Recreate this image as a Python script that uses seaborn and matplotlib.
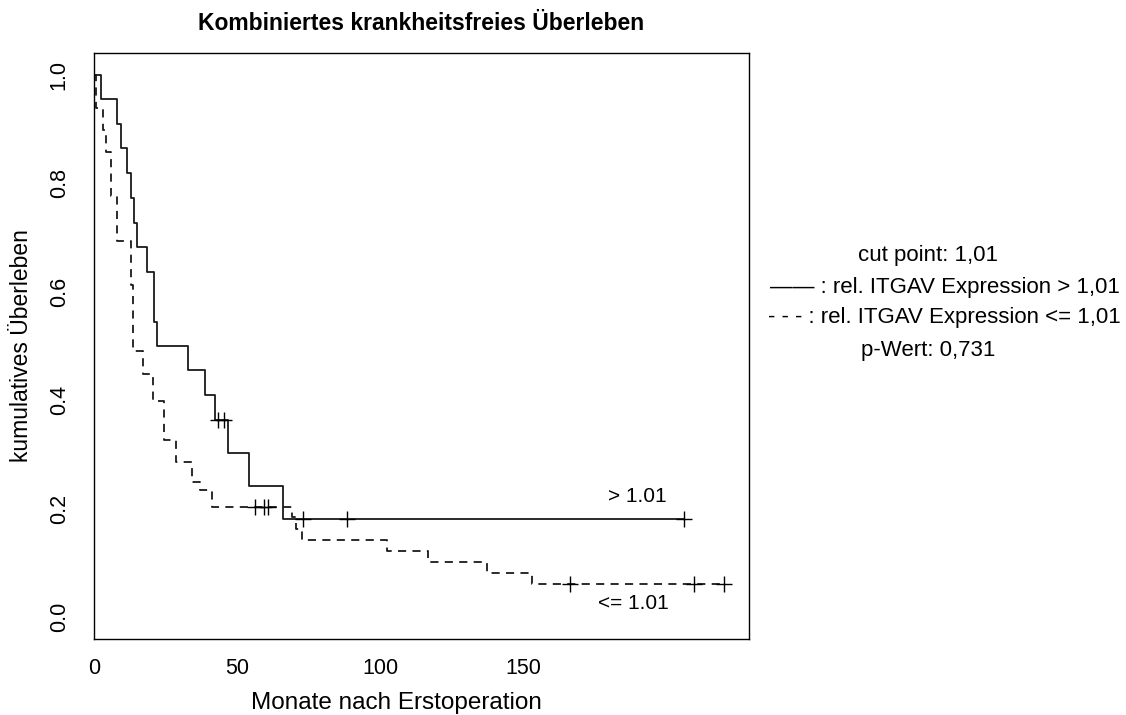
import matplotlib
matplotlib.use("Agg")
import matplotlib.pyplot as plt
import numpy as np
import pandas as pd
import seaborn as sns

# Kaplan-Meier step curves (time in months, cumulative survival)
high_times = [0, 2.3, 8.1, 9.3, 11.6, 12.8, 14.0, 15.1, 18.6, 20.9, 22.1,
              32.9, 38.8, 42.3, 46.8, 54.1, 66.0, 206.2]
high_surv = [1.0, 0.955, 0.909, 0.864, 0.818, 0.773, 0.727, 0.682, 0.636,
             0.545, 0.5, 0.455, 0.409, 0.364, 0.303, 0.242, 0.182, 0.182]
high_cens_t = [43.3, 45.6, 72.9, 88.3, 206.2]
high_cens_s = [0.364, 0.364, 0.182, 0.182, 0.182]

low_times = [0, 0.8, 3.1, 4.3, 5.8, 8.1, 12.8, 13.6, 17.1, 20.6, 24.4, 28.6,
             34.4, 37.0, 41.2, 69.2, 70.6, 72.6, 102.3, 116.6, 137.5, 153.2,
             220.2]
low_surv = [1.0, 0.939, 0.898, 0.857, 0.776, 0.694, 0.612, 0.49, 0.449,
            0.398, 0.327, 0.286, 0.25, 0.235, 0.204, 0.184, 0.163, 0.143,
            0.122, 0.102, 0.082, 0.061, 0.061]
low_cens_t = [56.4, 59.6, 60.7, 166.3, 209.7, 220.2]
low_cens_s = [0.204, 0.204, 0.204, 0.061, 0.061, 0.061]

group_labels = ["> 1.01", "<= 1.01"]
x_ticks = [0, 50, 100, 150]
y_ticks = [0.0, 0.2, 0.4, 0.6, 0.8, 1.0]

curves = pd.concat([
    pd.DataFrame({"t": high_times, "s": high_surv, "g": group_labels[0]}),
    pd.DataFrame({"t": low_times, "s": low_surv, "g": group_labels[1]}),
], ignore_index=True)
censored = pd.concat([
    pd.DataFrame({"t": high_cens_t, "s": high_cens_s, "g": group_labels[0]}),
    pd.DataFrame({"t": low_cens_t, "s": low_cens_s, "g": group_labels[1]}),
], ignore_index=True)

sns.set_theme(style="white")
plt.rcParams["font.family"] = ["Liberation Sans", "DejaVu Sans"]
plt.rcParams["text.color"] = "black"

W, H = 1126, 715
fig = plt.figure(figsize=(W / 100, H / 100), dpi=100)
L, R, T, B = 94, 749, 53, 639
ax = fig.add_axes([L / W, 1 - B / H, (R - L) / W, (B - T) / H])

sns.lineplot(data=curves, x="t", y="s", style="g", hue="g",
             palette={group_labels[0]: "#1a1a1a", group_labels[1]: "#1a1a1a"},
             dashes={group_labels[0]: "", group_labels[1]: (4.5, 3.5)},
             estimator=None, sort=False, drawstyle="steps-post",
             linewidth=1.3, legend=False, ax=ax)
sns.scatterplot(data=censored, x="t", y="s", marker="+", s=140,
                color="black", linewidth=1.0, legend=False, ax=ax, zorder=3)

ax.set_xlim(0, 229)
ax.set_ylim(-0.04, 1.04)
ax.set_xticks(x_ticks)
ax.set_xticklabels([str(v) for v in x_ticks])
ax.set_yticks(y_ticks)
ax.set_yticklabels([f"{v:.1f}" for v in y_ticks], rotation=90, va="center")
ax.set_xlabel("")
ax.set_ylabel("")
ax.tick_params(axis="both", direction="out", length=5.5, width=0.9,
               color="black", labelsize=15.5, labelcolor="black")
ax.tick_params(axis="x", pad=8)
ax.tick_params(axis="y", pad=12)
for sp in ax.spines.values():
    sp.set_visible(True)
    sp.set_color("black")
    sp.set_linewidth(1.0)

ax.text(190, 0.206, "> 1.01", ha="center", va="bottom", fontsize=15)
ax.text(188.5, 0.025, "<= 1.01", ha="center", va="center", fontsize=15)

cx = (L + R) / 2
fig.text(cx / W, 1 - 24 / H, "Kombiniertes krankheitsfreies Überleben",
         ha="center", va="center", fontsize=16.5, fontweight="bold")
fig.text(396 / W, 1 - 703 / H, "Monate nach Erstoperation",
         ha="center", va="center", fontsize=17.5)
fig.text(22 / W, 1 - 346 / H, "kumulatives Überleben", rotation=90,
         ha="center", va="center", fontsize=16.5)

fig.text(928 / W, 1 - 255 / H, "cut point: 1,01", ha="center", va="center",
         fontsize=16)
fig.text(770 / W, 1 - 287 / H, "—— : rel. ITGAV Expression > 1,01",
         ha="left", va="center", fontsize=16)
fig.text(768 / W, 1 - 318 / H, "- - - : rel. ITGAV Expression <= 1,01",
         ha="left", va="center", fontsize=16)
fig.text(928 / W, 1 - 350 / H, "p-Wert: 0,731", ha="center", va="center",
         fontsize=16)

fig.savefig("out.png", dpi=100, facecolor="white")
